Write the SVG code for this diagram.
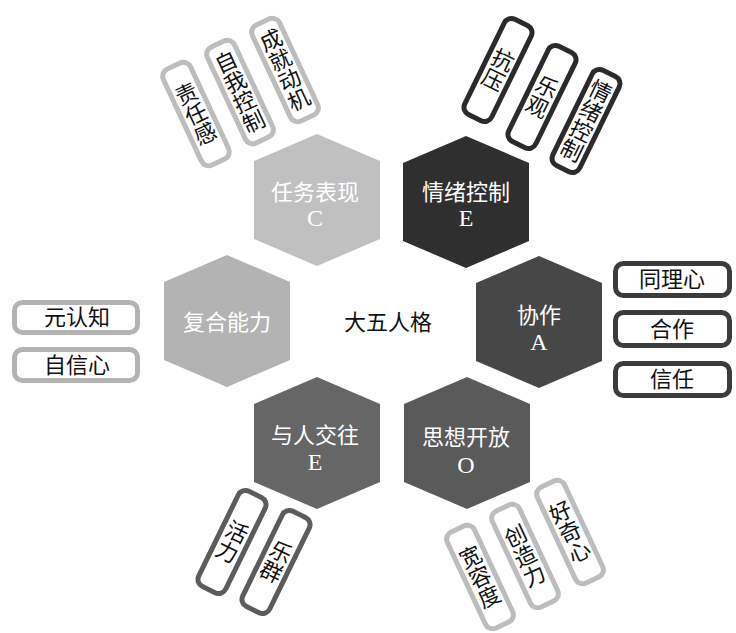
<svg xmlns="http://www.w3.org/2000/svg" xmlns:xlink="http://www.w3.org/1999/xlink" width="736" height="633" viewBox="0 0 736 633">
<style>
.cjk{font-family:"Noto Sans CJK SC","Noto Sans",sans-serif;font-size:22px;text-anchor:middle}
.lat{font-family:"Liberation Serif",serif;font-size:24px;text-anchor:middle}
.hw{fill:#ffffff}
.lb{fill:#111111}
.box{fill:#ffffff;stroke-width:5}
.g1{stroke:#bdbdbd}
.g2{stroke:#2b2b2b}
.g3{stroke:#3c3c3c}
.g4{stroke:#5c5c5c}
.g5{stroke:#b3b3b3}
</style>
<defs>
<polygon id="hex" points="0,-66 63,-39 63,39 0,66 -63,39 -63,-39"/>
<rect id="vbox" x="-15" y="-53" width="30" height="106" rx="8"/>
</defs>
<rect width="736" height="633" fill="#ffffff"/>
<g id="connectors"></g>

<g id="center"><text class="cjk lb" x="388" y="330">大五人格</text></g>

<g id="hexC" transform="translate(317,200)">
<use xlink:href="#hex" fill="#c0c0c0"/>
<text class="cjk hw" x="-2" y="0">任务表现</text>
<text class="lat hw" x="-2" y="26">C</text>
</g>
<g id="hexE1" transform="translate(466,202)">
<use xlink:href="#hex" fill="#2f2f2f"/>
<text class="cjk hw" x="0" y="-2">情绪控制</text>
<text class="lat hw" x="0" y="24">E</text>
</g>
<g id="hexA" transform="translate(539,322)">
<use xlink:href="#hex" fill="#474747"/>
<text class="cjk hw" x="0" y="1">协作</text>
<text class="lat hw" x="0" y="28">A</text>
</g>
<g id="hexO" transform="translate(467,443)">
<use xlink:href="#hex" fill="#5a5a5a"/>
<text class="cjk hw" x="-1" y="2">思想开放</text>
<text class="lat hw" x="-1" y="30">O</text>
</g>
<g id="hexE2" transform="translate(317,443)">
<use xlink:href="#hex" fill="#666666"/>
<text class="cjk hw" x="-2" y="0">与人交往</text>
<text class="lat hw" x="-2" y="27">E</text>
</g>
<g id="hexF" transform="translate(227,321)">
<use xlink:href="#hex" fill="#b3b3b3"/>
<text class="cjk hw" x="0" y="9">复合能力</text>
</g>

<!-- top-left C labels -->
<g id="lbl-zrg" transform="translate(196,114) rotate(-25)">
<use xlink:href="#vbox" class="box g1"/>
<text class="cjk lb"><tspan x="0" y="-14">责</tspan><tspan x="0" y="8">任</tspan><tspan x="0" y="30">感</tspan></text>
</g>
<g id="lbl-zwkz" transform="translate(240,92) rotate(-25)">
<use xlink:href="#vbox" class="box g1"/>
<text class="cjk lb"><tspan x="0" y="-25">自</tspan><tspan x="0" y="-3">我</tspan><tspan x="0" y="19">控</tspan><tspan x="0" y="41">制</tspan></text>
</g>
<g id="lbl-cjdj" transform="translate(285,70) rotate(-25)">
<use xlink:href="#vbox" class="box g1"/>
<text class="cjk lb"><tspan x="0" y="-25">成</tspan><tspan x="0" y="-3">就</tspan><tspan x="0" y="19">动</tspan><tspan x="0" y="41">机</tspan></text>
</g>

<!-- top-right E labels -->
<g id="lbl-ky" transform="translate(498,70) rotate(26)">
<use xlink:href="#vbox" class="box g2"/>
<text class="cjk lb"><tspan x="0" y="-3">抗</tspan><tspan x="0" y="19">压</tspan></text>
</g>
<g id="lbl-lg" transform="translate(542,97) rotate(26)">
<use xlink:href="#vbox" class="box g2"/>
<text class="cjk lb"><tspan x="0" y="-3">乐</tspan><tspan x="0" y="19">观</tspan></text>
</g>
<g id="lbl-qxkz" transform="translate(586,121) rotate(26)">
<use xlink:href="#vbox" class="box g2"/>
<text class="cjk lb"><tspan x="0" y="-25">情</tspan><tspan x="0" y="-3">绪</tspan><tspan x="0" y="19">控</tspan><tspan x="0" y="41">制</tspan></text>
</g>

<!-- right A labels -->
<g id="lbl-tlx">
<rect class="box g3" x="615.5" y="263.5" width="114" height="32" rx="8"/>
<text class="cjk lb" x="672" y="287">同理心</text>
</g>
<g id="lbl-hz">
<rect class="box g3" x="615.5" y="312.5" width="114" height="33" rx="8"/>
<text class="cjk lb" x="672" y="337">合作</text>
</g>
<g id="lbl-xr">
<rect class="box g3" x="615.5" y="363.5" width="114" height="32" rx="8"/>
<text class="cjk lb" x="672" y="387">信任</text>
</g>

<!-- left labels -->
<g id="lbl-yrz">
<rect class="box g5" x="14.5" y="302.5" width="123" height="30" rx="8"/>
<text class="cjk lb" x="77" y="325">元认知</text>
</g>
<g id="lbl-zxx">
<rect class="box g5" x="14.5" y="349.5" width="123" height="31" rx="8"/>
<text class="cjk lb" x="77" y="373">自信心</text>
</g>

<!-- bottom-left E labels -->
<g id="lbl-hl" transform="translate(232,542) rotate(26)">
<use xlink:href="#vbox" class="box g4"/>
<text class="cjk lb"><tspan x="0" y="-3">活</tspan><tspan x="0" y="19">力</tspan></text>
</g>
<g id="lbl-lq" transform="translate(276,562) rotate(26)">
<use xlink:href="#vbox" class="box g4"/>
<text class="cjk lb"><tspan x="0" y="-3">乐</tspan><tspan x="0" y="19">群</tspan></text>
</g>

<!-- bottom-right O labels -->
<g id="lbl-hqx" transform="translate(570,532) rotate(-25)">
<use xlink:href="#vbox" class="box g1"/>
<text class="cjk lb"><tspan x="0" y="-14">好</tspan><tspan x="0" y="8">奇</tspan><tspan x="0" y="30">心</tspan></text>
</g>
<g id="lbl-czl" transform="translate(525,556) rotate(-25)">
<use xlink:href="#vbox" class="box g1"/>
<text class="cjk lb"><tspan x="0" y="-14">创</tspan><tspan x="0" y="8">造</tspan><tspan x="0" y="30">力</tspan></text>
</g>
<g id="lbl-krd" transform="translate(480,577) rotate(-25)">
<use xlink:href="#vbox" class="box g1"/>
<text class="cjk lb"><tspan x="0" y="-14">宽</tspan><tspan x="0" y="8">容</tspan><tspan x="0" y="30">度</tspan></text>
</g>
</svg>
